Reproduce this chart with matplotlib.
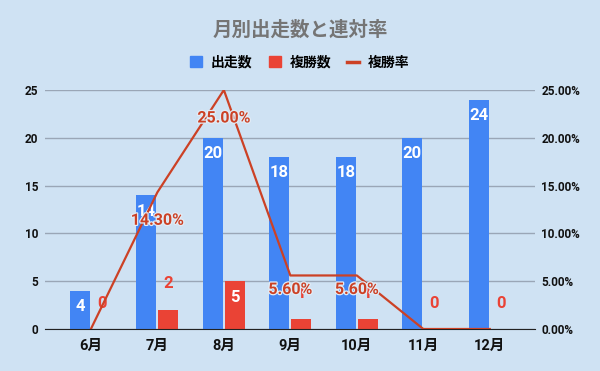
import numpy as np
import matplotlib
matplotlib.use("Agg")
import matplotlib.pyplot as plt
import matplotlib.patheffects as pe
from matplotlib.patches import Patch
from matplotlib.lines import Line2D

plt.rcParams['font.family'] = ['Roboto', 'Noto Sans CJK JP', 'DejaVu Sans']

months = ["6月", "7月", "8月", "9月", "10月", "11月", "12月"]
starts = [4, 14, 20, 18, 18, 20, 24]          # 出走数
places = [0, 2, 5, 1, 1, 0, 0]                # 複勝数
rates = [0.0, 0.143, 0.25, 0.056, 0.056, 0.0, 0.0]  # 複勝率

BG = "#cfe2f3"
BLUE = "#4285f4"
RED = "#ea4335"
LINE = "#cc4125"
GRID = "#9aa6b6"

fig = plt.figure(figsize=(6, 3.71), dpi=100, facecolor=BG)
ax = fig.add_axes([0.075, 0.1132, 0.8167, 0.6442], facecolor=BG)
ax2 = ax.twinx()

x = np.arange(len(months))
w = 0.3
off = 0.165
ax.bar(x - off, starts, w, color=BLUE, zorder=2)
ax.bar(x + off, places, w, color=RED, zorder=2)

ax.set_ylim(0, 25)
ax.set_xlim(-0.69, 6.68)
ax.set_yticks(range(0, 26, 5))
ax.grid(axis="y", color=GRID, lw=1, zorder=0)
ax.set_axisbelow(True)
for s in ["top", "right", "left"]:
    ax.spines[s].set_visible(False)
ax.spines["bottom"].set_color("#222222")
ax.spines["bottom"].set_zorder(3)
ax.set_xticks(x)
ax.set_xticklabels(months)
ax.tick_params(axis="x", length=0, pad=7, labelsize=10.5)
ax.tick_params(axis="y", length=0, pad=5, labelsize=8.5)
for t in ax.get_xticklabels() + ax.get_yticklabels():
    t.set_fontweight("bold")
    t.set_color("#111111")

ax2.set_ylim(0, 0.25)
ax2.set_yticks(np.arange(0, 0.26, 0.05))
ax2.set_yticklabels([f"{v*100:.2f}%" for v in np.arange(0, 0.26, 0.05)])
ax2.tick_params(axis="y", length=0, pad=4.5, labelsize=8.5)
for t in ax2.get_yticklabels():
    t.set_fontweight("bold")
    t.set_color("#111111")
for s in ax2.spines.values():
    s.set_visible(False)
ax2.plot(x, rates, color=LINE, lw=1.6, zorder=4)

px = 72 / 100  # points per pixel

# blue bar labels, inside the top
for xi, v in zip(x, starts):
    ax.annotate(str(v), (xi - off, v), xytext=(0, -16 * px), textcoords="offset points",
                ha="center", va="center", color="white", fontsize=12, fontweight="bold", zorder=5)

# red bar labels
for xi, v in zip(x, places):
    if v >= 3:
        ax.annotate(str(v), (xi + off, v), xytext=(0, -16 * px), textcoords="offset points",
                    ha="center", va="center", color="white", fontsize=12, fontweight="bold", zorder=5)
    else:
        ax.annotate(str(v), (xi + off, v), xytext=(0, 26 * px), textcoords="offset points",
                    ha="center", va="center", color=RED, fontsize=12, fontweight="bold", zorder=5)

# rate labels
for xi, r in zip(x, rates):
    if r <= 0:
        continue
    dy = -28 if r > 0.1 else -14
    ax2.annotate(f"{r*100:.2f}%", (xi, r), xytext=(0, dy * px), textcoords="offset points",
                 ha="center", va="center", color=LINE, fontsize=11.5, fontweight="bold", zorder=6,
                 path_effects=[pe.withStroke(linewidth=1.8, foreground="#e2ecf6")])

fig.text(0.5, 0.919, "月別出走数と連対率", ha="center", va="center",
         fontsize=14, fontweight="bold", color="#757575")

handles = [Patch(color=BLUE), Patch(color=RED), Line2D([], [], color=LINE, lw=2.5)]
fig.legend(handles, ["出走数", "複勝数", "複勝率"], loc="center",
           bbox_to_anchor=(0.5, 0.831), ncol=3, frameon=False,
           handlelength=0.86, handleheight=0.86, handletextpad=0.65,
           columnspacing=1.15, prop={"size": 10, "weight": "bold"})

fig.savefig("out.png", dpi=100, facecolor=BG)
